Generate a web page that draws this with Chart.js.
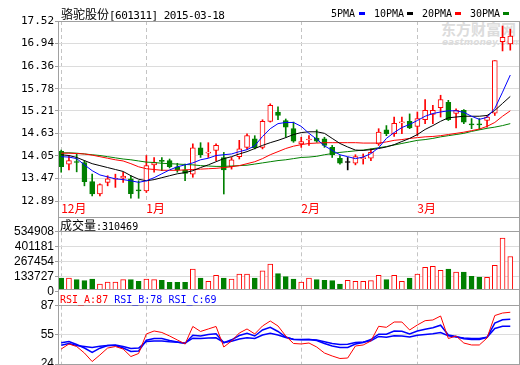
<!DOCTYPE html>
<html>
<head>
<meta charset="utf-8">
<title>骆驼股份</title>
<script src="https://cdn.jsdelivr.net/npm/chart.js@4.4.1/dist/chart.umd.min.js"></script>
<style>
    html, body { margin: 0; padding: 0; background: #fff; }
    #wrap { position: relative; width: 520px; height: 365px; overflow: hidden; }
    #wrap canvas { position: absolute; left: 0; z-index: 1; }
    .mark { position: absolute; z-index: 0; color: #dcdcdc; font-family: "Noto Sans CJK SC", sans-serif; font-weight: bold; white-space: nowrap; }
    .cover { position: absolute; z-index: 2; background: #fff; left: 59px; top: 290px; width: 460px; height: 15px; }
    .hl, .vl { position: absolute; z-index: 2; background: #a0a0a0; }
    .hl { left: 58px; width: 462px; height: 1px; }
    .vl { top: 21px; width: 1px; height: 344px; }
    .txt { position: absolute; z-index: 3; white-space: nowrap; font-family: "DejaVu Sans Mono", monospace; font-size: 10px; line-height: 14px; color: #000; }
    .cjk { font-family: "Noto Sans CJK SC", sans-serif; font-size: 12px; }
    .key { position: absolute; z-index: 3; top: 12px; width: 6px; height: 3px; }
</style>
</head>
<body>
<div id="wrap">
    <div class="mark" style="left:441px; top:21px; font-size:15px; line-height:16px;">东方财富网</div>
    <div class="mark" style="left:442px; top:37px; font-size:9px; line-height:10px; font-style:italic; font-family:'DejaVu Sans';">eastmoney.com</div>

    <canvas id="priceChart" width="520" height="218" style="top:0;"></canvas>
    <canvas id="volChart" width="520" height="87" style="top:218px;"></canvas>
    <canvas id="rsiChart" width="520" height="85" style="top:290px;"></canvas>

    <div class="cover"></div>
    <div class="vl" style="left:58px;"></div>
    <div class="vl" style="left:519px;"></div>
    <div class="hl" style="top:21px;"></div>
    <div class="hl" style="top:217px;"></div>
    <div class="hl" style="top:231px;"></div>
    <div class="hl" style="top:289px;"></div>
    <div class="hl" style="top:305px;"></div>
    <div class="hl" style="top:364px;"></div>

    <div class="txt" style="left:61px; top:7px; font-size:11px; letter-spacing:-0.55px;"><span class="cjk" style="letter-spacing:0;">骆驼股份</span>[601311] 2015-03-18</div>

    <div class="txt" style="left:331px; top:7px;">5PMA</div>
    <div class="key" style="left:359px; background:#0000ff;"></div>
    <div class="txt" style="left:374px; top:7px;">10PMA</div>
    <div class="key" style="left:407px; background:#000000;"></div>
    <div class="txt" style="left:422px; top:7px;">20PMA</div>
    <div class="key" style="left:455px; background:#ff0000;"></div>
    <div class="txt" style="left:470px; top:7px;">30PMA</div>
    <div class="key" style="left:503px; background:#008000;"></div>

    <div class="txt" id="volTitle" style="left:60px; top:218px;"></div>
    <div class="txt" id="rsiTitle" style="left:60px; top:293px;"></div>
</div>

<script>
// 2014-12-17 .. 2015-03-18, one entry per trading day
const openP = [14.17, 13.84, 13.90, 13.88, 13.39, 13.07, 13.37, 13.45, 13.48, 13.46,
    13.17, 13.15, 13.82, 13.93, 13.93, 13.77, 13.69, 13.58, 14.26, 14.12,
    14.19, 14.01, 13.77, 14.03, 14.27, 14.49, 14.27, 14.94, 15.18, 14.96,
    14.75, 14.36, 14.46, 14.51, 14.49, 14.27, 13.99, 13.88, 13.86, 13.98,
    13.99, 14.36, 14.72, 14.62, 14.90, 14.94, 14.81, 14.98, 15.12, 15.29,
    15.43, 15.14, 15.22, 14.87, 14.86, 14.96, 15.15, 16.99, 16.93];
const highP = [14.20, 14.05, 14.10, 13.93, 13.58, 13.33, 13.54, 13.58, 13.63, 13.54,
    13.41, 14.06, 14.01, 14.01, 13.97, 13.86, 13.84, 14.36, 14.39, 14.39,
    14.36, 14.14, 14.01, 14.45, 14.62, 14.57, 14.98, 15.39, 15.31, 15.00,
    14.92, 14.53, 14.57, 14.72, 14.53, 14.32, 14.06, 14.01, 14.08, 14.10,
    14.23, 14.75, 14.83, 15.05, 15.05, 15.13, 15.18, 15.50, 15.35, 15.61,
    15.48, 15.26, 15.24, 15.01, 15.01, 15.09, 16.50, 17.39, 17.31];
const lowP = [13.63, 13.69, 13.64, 13.28, 13.02, 13.02, 13.28, 13.24, 13.37, 12.96,
    12.96, 13.11, 13.63, 13.67, 13.74, 13.63, 13.41, 13.50, 14.01, 14.01,
    13.93, 13.07, 13.71, 13.97, 14.23, 14.23, 14.23, 14.92, 14.98, 14.53,
    14.40, 14.27, 14.32, 14.40, 14.27, 14.01, 13.84, 13.69, 13.82, 13.84,
    13.93, 14.32, 14.57, 14.55, 14.62, 14.75, 14.57, 14.88, 14.88, 15.05,
    14.96, 14.77, 14.88, 14.75, 14.73, 14.79, 15.09, 16.75, 16.77];
const closeP = [13.77, 13.93, 13.88, 13.39, 13.07, 13.31, 13.46, 13.47, 13.53, 13.08,
    13.15, 13.80, 13.88, 13.91, 13.77, 13.69, 13.60, 14.26, 14.08, 14.14,
    14.32, 13.69, 13.95, 14.23, 14.57, 14.26, 14.94, 15.35, 15.09, 14.79,
    14.43, 14.42, 14.48, 14.43, 14.32, 14.08, 13.86, 13.88, 14.03, 14.00,
    14.14, 14.66, 14.62, 14.89, 14.92, 14.77, 15.01, 15.22, 15.22, 15.50,
    14.98, 15.22, 14.92, 14.85, 14.85, 15.05, 16.50, 17.10, 17.13];

const ma5 = [14.03, 14.02, 13.98, 13.82, 13.67, 13.56, 13.51, 13.46, 13.44, 13.41,
    13.37, 13.41, 13.49, 13.59, 13.69, 13.77, 13.82, 13.87, 13.95, 13.99,
    14.06, 14.08, 14.10, 14.16, 14.21, 14.31, 14.55, 14.75, 14.88, 14.91,
    14.91, 14.81, 14.63, 14.48, 14.31, 14.19, 14.08, 14.03, 13.98, 14.02,
    14.11, 14.26, 14.50, 14.65, 14.78, 14.86, 14.96, 15.07, 15.14, 15.18,
    15.21, 15.21, 15.17, 15.07, 14.99, 15.04, 15.27, 15.69, 16.13];
const ma10 = [14.08, 14.06, 14.01, 13.93, 13.85, 13.80, 13.75, 13.70, 13.65, 13.54,
    13.45, 13.41, 13.44, 13.49, 13.54, 13.59, 13.62, 13.67, 13.75, 13.82,
    13.90, 13.98, 14.03, 14.10, 14.16, 14.24, 14.32, 14.39, 14.45, 14.52,
    14.60, 14.65, 14.67, 14.67, 14.63, 14.50, 14.37, 14.28, 14.20, 14.19,
    14.21, 14.24, 14.28, 14.34, 14.42, 14.50, 14.60, 14.73, 14.83, 14.94,
    15.03, 15.05, 15.07, 15.07, 15.07, 15.09, 15.22, 15.40, 15.58];
const ma20 = [14.12, 14.12, 14.11, 14.10, 14.07, 14.03, 13.99, 13.95, 13.92, 13.85,
    13.77, 13.72, 13.70, 13.68, 13.68, 13.68, 13.69, 13.70, 13.71, 13.72,
    13.73, 13.75, 13.77, 13.80, 13.85, 13.90, 13.98, 14.08, 14.16, 14.24,
    14.30, 14.34, 14.37, 14.38, 14.39, 14.39, 14.39, 14.39, 14.39, 14.38,
    14.38, 14.38, 14.41, 14.45, 14.47, 14.50, 14.52, 14.54, 14.55, 14.57,
    14.60, 14.63, 14.66, 14.70, 14.74, 14.81, 14.91, 15.07, 15.21];
const ma30 = [14.13, 14.13, 14.12, 14.10, 14.08, 14.06, 14.03, 14.00, 13.97, 13.95,
    13.92, 13.89, 13.88, 13.86, 13.85, 13.84, 13.83, 13.82, 13.80, 13.79,
    13.78, 13.78, 13.79, 13.80, 13.81, 13.84, 13.87, 13.90, 13.93, 13.95,
    13.98, 14.01, 14.02, 14.04, 14.08, 14.11, 14.14, 14.16, 14.18, 14.20,
    14.23, 14.26, 14.29, 14.33, 14.37, 14.41, 14.45, 14.47, 14.50, 14.54,
    14.57, 14.60, 14.63, 14.68, 14.72, 14.76, 14.79, 14.83, 14.88];

const volume = [118600, 118600, 103400, 94500, 109700, 65100, 82900, 82900, 103400, 103400,
    89200, 109700, 103400, 98100, 80200, 80200, 80200, 198800, 118600, 89200,
    142600, 118600, 109700, 154200, 154200, 118600, 183600, 243400, 156900, 130200,
    109700, 82900, 118600, 103400, 98100, 94500, 65100, 98100, 89200, 89200,
    94500, 142600, 103400, 142600, 89200, 118600, 154200, 214000, 222900, 187200,
    198800, 172100, 172100, 133700, 127500, 124800, 231800, 475200, 310469];

const rsiA = [39.9, 46.4, 43.1, 34.8, 23.9, 32.3, 41.2, 43.1, 39.9, 30.3,
    34.2, 59.2, 63.0, 61.1, 56.6, 51.5, 46.4, 68.8, 62.4, 65.6,
    68.8, 42.5, 50.2, 60.4, 65.6, 59.2, 69.4, 75.8, 69.4, 56.6,
    47.0, 46.4, 47.6, 42.5, 34.8, 31.0, 27.8, 28.4, 43.8, 45.1,
    50.2, 69.0, 67.7, 74.5, 74.5, 64.3, 70.7, 76.2, 77.1, 82.2,
    53.4, 56.6, 47.6, 45.1, 45.1, 54.0, 82.8, 86.0, 87.0];
const rsiB = [47.9, 49.6, 45.7, 41.2, 35.5, 41.0, 44.4, 44.4, 41.2, 36.7,
    37.4, 51.2, 53.4, 53.4, 50.8, 48.9, 47.0, 57.6, 56.6, 58.5,
    59.4, 47.9, 51.7, 57.2, 60.1, 56.6, 64.3, 67.7, 62.4, 55.3,
    52.1, 51.7, 52.1, 50.8, 47.0, 43.8, 41.9, 41.9, 46.4, 48.3,
    52.1, 58.9, 58.8, 63.0, 62.6, 59.2, 63.0, 65.3, 67.1, 70.4,
    57.9, 56.0, 53.0, 52.1, 52.1, 54.9, 73.2, 77.3, 78.0];
const rsiC = [44.7, 47.0, 44.4, 43.1, 41.9, 43.5, 44.4, 45.1, 43.1, 40.6,
    41.2, 49.6, 50.2, 50.2, 49.2, 48.5, 47.6, 53.8, 53.4, 54.0,
    54.3, 48.3, 49.9, 52.8, 54.3, 53.4, 57.9, 60.1, 57.9, 54.7,
    52.4, 52.1, 52.1, 51.5, 49.2, 47.0, 45.7, 46.1, 48.3, 48.9,
    50.4, 56.0, 55.1, 57.0, 56.6, 55.3, 57.6, 58.5, 59.4, 61.1,
    57.0, 55.3, 54.0, 53.4, 53.4, 54.9, 66.2, 69.1, 69.0];

const monthStarts = [0, 11, 31, 46];
const monthLabels = ["12月", "1月", "2月", "3月"];
const priceTicks = ["12.89", "13.47", "14.05", "14.63", "15.21", "15.78", "16.36", "16.94", "17.52"];
const volTicks = ["0", "133727", "267454", "401181", "534908"];
const rsiTicks = ["24", "55", "87"];

document.addEventListener("DOMContentLoaded", () => {
    const RED = "#ff0000";
    const GREEN = "#008000";
    const BLUE = "#0000ff";
    const xMin = -0.413;
    const xMax = 59.125;
    const rsiMin = 20.74;
    const rsiMax = 95.39;

    const idx = closeP.map((_, i) => i);
    const pts = (arr) => arr.map((v, i) => ({ x: i, y: v }));
    const isUp = (i) => closeP[i] >= openP[i];
    const candleColor = (i) => {
        if (closeP[i] > openP[i]) return RED;
        if (closeP[i] < openP[i]) return GREEN;
        return "#000000";
    };

    const common = {
        responsive: false,
        animation: false,
        events: [],
        devicePixelRatio: 1,
        plugins: { legend: { display: false }, tooltip: { enabled: false } },
    };

    function xAxis(withLabels) {
        return {
            type: "linear",
            min: xMin,
            max: xMax,
            bounds: "data",
            offset: false,
            afterBuildTicks: (s) => {
                s.ticks = monthStarts.map((v) => ({ value: v }));
            },
            afterFit: (s) => {
                s.height = withLabels ? 17 : 0;
            },
            grid: { color: "#c4c4c4", drawTicks: false, offset: false },
            border: { display: false, dash: [4, 3] },
            ticks: {
                display: withLabels,
                autoSkip: false,
                maxRotation: 0,
                align: "start",
                padding: 0,
                color: RED,
                font: { family: '"Noto Sans CJK SC"', size: 12 },
                callback: (v, i) => monthLabels[i],
            },
        };
    }

    function yAxis(min, max, values, labels, font) {
        return {
            type: "linear",
            min: min,
            max: max,
            beginAtZero: false,
            afterBuildTicks: (s) => {
                s.ticks = values.map((v) => ({ value: v }));
            },
            afterFit: (s) => {
                s.width = 58;
            },
            grid: { color: "#dcdcdc", tickLength: 3, tickColor: "#a0a0a0" },
            border: { display: false },
            ticks: {
                autoSkip: false,
                padding: 1,
                color: "#000000",
                font: font,
                callback: (v, i) => labels[i],
            },
        };
    }

    const maLine = (arr, color) => ({
        type: "line",
        data: pts(arr),
        borderColor: color,
        borderWidth: 1,
        pointRadius: 0,
        fill: false,
        order: 0,
    });

    // price panel: candles + moving averages
    new Chart(document.getElementById("priceChart"), {
        type: "bar",
        data: {
            datasets: [
                maLine(ma5, BLUE),
                maLine(ma10, "#000000"),
                maLine(ma20, RED),
                maLine(ma30, GREEN),
                {
                    data: idx.map((i) => ({ x: i, y: [openP[i], closeP[i]] })),
                    backgroundColor: idx.map((i) => (closeP[i] > openP[i] ? "#ffffff" : candleColor(i))),
                    borderColor: idx.map(candleColor),
                    borderWidth: 1,
                    borderSkipped: false,
                    barThickness: 5,
                    minBarLength: 1,
                    grouped: false,
                    order: 1,
                },
                {
                    data: idx.map((i) => ({ x: i, y: [lowP[i], highP[i]] })),
                    backgroundColor: idx.map(candleColor),
                    barThickness: 1,
                    grouped: false,
                    order: 2,
                },
            ],
        },
        options: {
            ...common,
            layout: { padding: { top: 21, right: 1, bottom: 0, left: 0 } },
            scales: {
                x: xAxis(true),
                y: yAxis(12.89, 17.52, priceTicks.map(Number), priceTicks,
                    { family: '"DejaVu Sans Mono"', size: 11 }),
            },
        },
    });

    // volume panel
    new Chart(document.getElementById("volChart"), {
        type: "bar",
        data: {
            datasets: [
                {
                    data: pts(volume),
                    backgroundColor: idx.map((i) => (isUp(i) ? "#ffffff" : GREEN)),
                    borderColor: idx.map((i) => (isUp(i) ? RED : GREEN)),
                    borderWidth: 1,
                    borderSkipped: false,
                    barThickness: 5,
                    grouped: false,
                },
            ],
        },
        options: {
            ...common,
            layout: { padding: { top: 13.3, right: 1, bottom: 13.7, left: 0 } },
            scales: {
                x: xAxis(false),
                y: yAxis(0, 534908, volTicks.map(Number), volTicks,
                    { family: '"Liberation Sans"', size: 12 }),
            },
        },
    });

    // RSI panel
    new Chart(document.getElementById("rsiChart"), {
        type: "line",
        data: {
            datasets: [
                { data: pts(rsiA), borderColor: RED, borderWidth: 1, pointRadius: 0, order: 0 },
                { data: pts(rsiB), borderColor: BLUE, borderWidth: 1.5, pointRadius: 0, order: 1 },
                { data: pts(rsiC), borderColor: BLUE, borderWidth: 1.5, pointRadius: 0, order: 2 },
            ],
        },
        options: {
            ...common,
            layout: { padding: { top: 15.7, right: 1, bottom: 11, left: 0 } },
            scales: {
                x: xAxis(false),
                y: yAxis(rsiMin, rsiMax, [rsiMin, (rsiMin + rsiMax) / 2, rsiMax], rsiTicks,
                    { family: '"Liberation Sans"', size: 12 }),
            },
        },
    });

    const last = (arr) => arr[arr.length - 1];
    document.getElementById("volTitle").innerHTML =
        `<span class="cjk">成交量</span>:${last(volume)}`;
    document.getElementById("rsiTitle").innerHTML =
        `<span style="color:${RED}">RSI_A:${Math.round(last(rsiA))}</span> ` +
        `<span style="color:${BLUE}">RSI_B:${Math.round(last(rsiB))}</span> ` +
        `<span style="color:${BLUE}">RSI_C:${Math.round(last(rsiC))}</span>`;
});
</script>
</body>
</html>
